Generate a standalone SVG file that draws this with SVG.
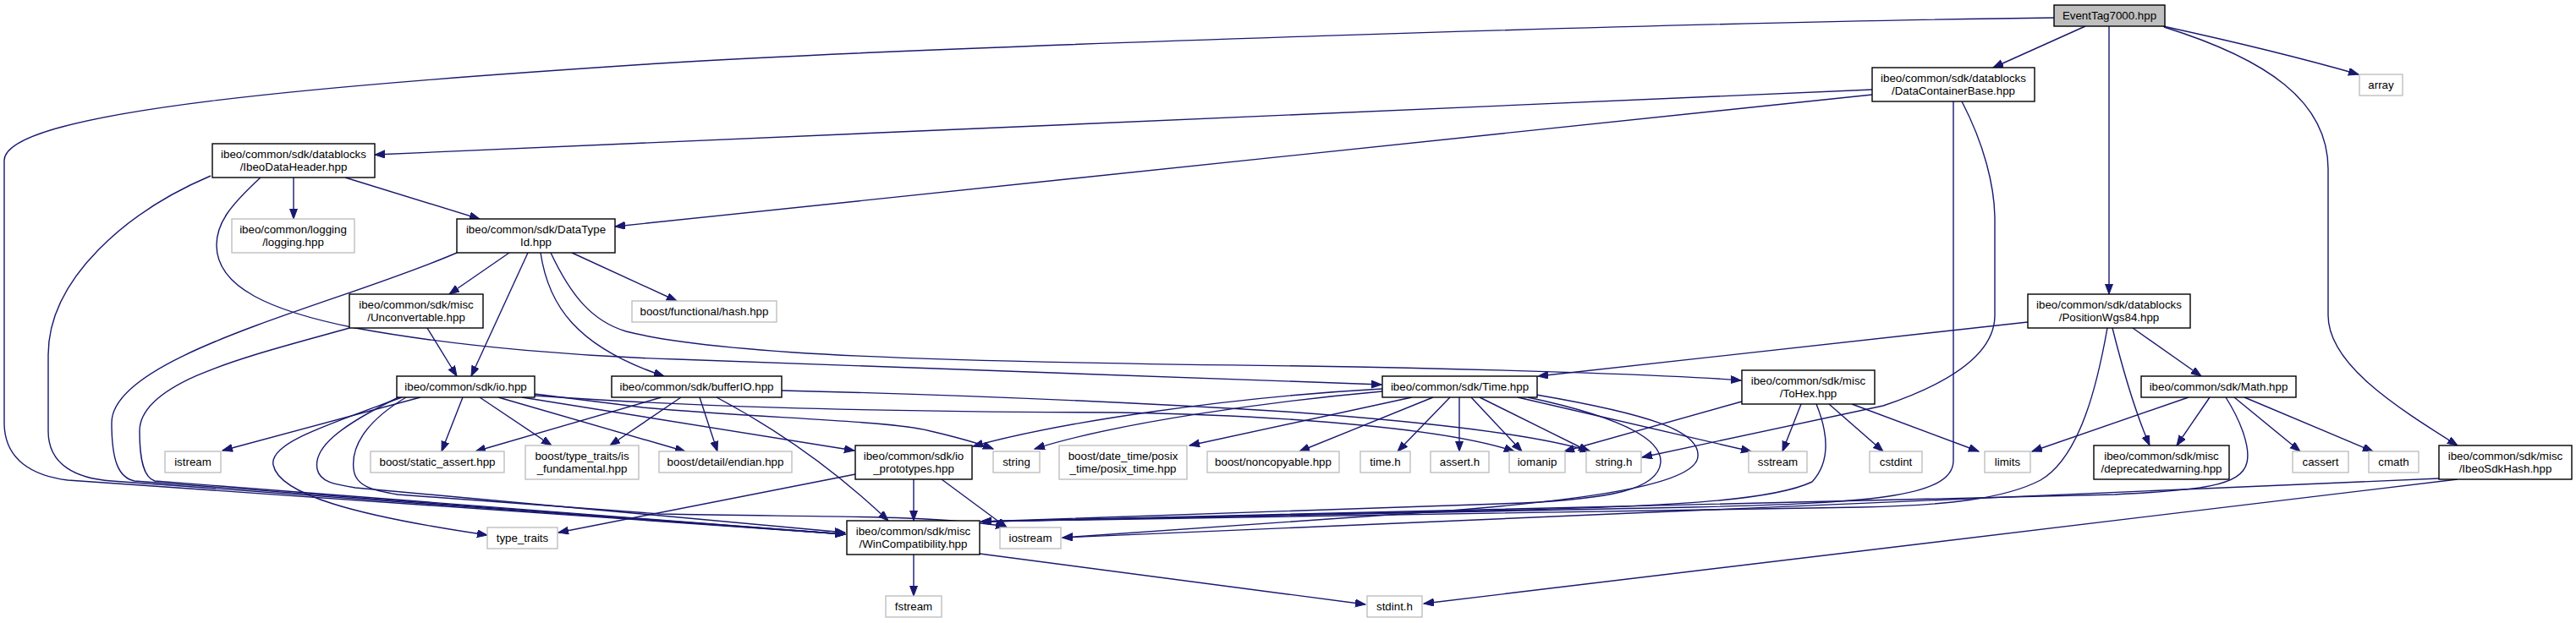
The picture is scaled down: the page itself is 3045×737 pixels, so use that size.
<svg xmlns="http://www.w3.org/2000/svg" width="3045" height="737" viewBox="0 0 3045 737">
<defs>
<marker id="a" markerUnits="userSpaceOnUse" markerWidth="13" markerHeight="10" refX="12" refY="4.5" orient="auto"><path d="M0,0 L12,4.5 L0,9 z" fill="#191970" stroke="#191970" stroke-width="1"/></marker>
<style>
.n rect{fill:#fff;stroke:#000;stroke-width:1.4}
.g rect{fill:#fff;stroke:#bfbfbf;stroke-width:1.4}
.m rect{fill:#bfbfbf;stroke:#000;stroke-width:1.4}
text{font-family:"Liberation Sans",Arial,Helvetica,sans-serif;font-size:13.33px;text-anchor:middle;fill:#000}
#edges path{fill:none;stroke:#191970;stroke-width:1.4;marker-end:url(#a)}
</style>
</defs>
<rect width="3045" height="737" fill="#fff"/>
<g id="edges">
<path d="M2428,21 C2000,26 1100,55 780,75 C400,100 5,130 5,190 L5,500 C5,545 40,563 80,568 L999,632"/>
<path d="M2465,31 L2356,80"/>
<path d="M2493,31 L2493,348"/>
<path d="M2557,31 Q2690,60 2788,88"/>
<path d="M2558,32 C2680,70 2752,120 2752,200 L2752,373 C2752,430 2830,480 2905,527"/>
<path d="M2213,106 L443,183"/>
<path d="M2213,112 L727,268"/>
<path d="M2309,120 L2309,545 C2309,590 2200,595 2000,600 L1160,617"/>
<path d="M2319,120 C2345,170 2358,220 2358,260 L2358,373 C2358,420 2300,455 2226,480 L1941,541"/>
<path d="M347,210 L347,259"/>
<path d="M408,210 L567,259"/>
<path d="M249,208 C150,250 57,330 57,420 L57,510 C57,550 90,566 132,569 L999,632"/>
<path d="M308,210 C270,245 256,265 256,290 C256,340 320,368 420,388 C550,412 700,422 800,425 L1633,455"/>
<path d="M602,299 L531,348"/>
<path d="M624,299 L557,445"/>
<path d="M639,299 C648,360 680,410 785,445"/>
<path d="M676,299 L800,356"/>
<path d="M651,299 C675,350 700,380 740,392 C850,420 1100,428 1540,433 C1800,437 2000,445 2058,450"/>
<path d="M540,299 C400,360 132,420 132,500 C132,545 140,565 159,569 L999,632"/>
<path d="M413,388 C300,420 165,450 165,510 C165,545 170,565 183,569 L999,632"/>
<path d="M505,388 L540,445"/>
<path d="M497,470 L263,533"/>
<path d="M547,470 L522,534"/>
<path d="M567,470 L652,527"/>
<path d="M589,470 L810,534"/>
<path d="M617,470 L1010,533"/>
<path d="M475,470 C380,505 318,525 323,550 C330,585 420,610 576,633"/>
<path d="M471,470 C400,505 370,530 375,555 C378,570 395,573 420,577 L999,630"/>
<path d="M480,470 C430,500 415,530 418,555 C420,575 440,580 470,585 L780,608 C950,612 1100,608 1189,623"/>
<path d="M632,466 L760,482 C900,495 1050,497 1100,510 C1130,517 1150,522 1174,531"/>
<path d="M632,468 C800,480 1000,487 1320,488 C1550,492 1720,510 1790,534"/>
<path d="M782,470 L562,534"/>
<path d="M805,470 L721,527"/>
<path d="M827,470 L848,534"/>
<path d="M847,470 Q960,530 1050,616"/>
<path d="M924,462 C1100,466 1320,475 1520,487 C1700,500 1820,515 1880,534"/>
<path d="M1080,567 L1080,616"/>
<path d="M1113,567 L1190,624"/>
<path d="M1011,561 L660,630"/>
<path d="M1669,470 L1406,527"/>
<path d="M1694,470 L1536,534"/>
<path d="M1714,470 L1652,534"/>
<path d="M1725,470 L1725,534"/>
<path d="M1739,470 L1799,534"/>
<path d="M1749,470 L1878,534"/>
<path d="M1794,470 L2070,534"/>
<path d="M1806,470 C1900,490 1965,515 1963,547 C1960,580 1900,590 1800,595 L1160,617"/>
<path d="M1816,467 C1950,490 2010,510 2007,540 C2005,570 1900,590 1700,605 L1256,636"/>
<path d="M1634,463 C1500,475 1320,500 1223,531"/>
<path d="M1634,460 C1450,470 1250,500 1150,528"/>
<path d="M2059,475 L1849,534"/>
<path d="M2129,478 L2107,534"/>
<path d="M2147,478 C2160,510 2165,545 2142,570 C2100,590 2000,598 1800,603 L1160,617"/>
<path d="M2162,478 L2226,534"/>
<path d="M2189,478 L2339,534"/>
<path d="M2397,381 L1818,445"/>
<path d="M2521,388 L2602,445"/>
<path d="M2497,388 C2510,440 2525,490 2541,527"/>
<path d="M2491,388 C2480,450 2460,540 2412,568 C2370,590 2300,598 2200,600 L1160,617"/>
<path d="M2587,470 L2402,534"/>
<path d="M2612,470 L2573,527"/>
<path d="M2631,470 C2650,500 2660,530 2656,547 C2650,575 2600,580 2500,585 L1160,617"/>
<path d="M2641,470 L2719,534"/>
<path d="M2653,470 L2805,534"/>
<path d="M2883,566 L1256,636"/>
<path d="M2905,567 L1683,714"/>
<path d="M1080,656 L1080,705"/>
<path d="M1158,655 L1614,715"/>
</g>
<g id="n0" class="m"><rect x="2428" y="6" width="131" height="25"/><text x="2493.5" y="23">EventTag7000.hpp</text></g>
<g id="n1" class="g"><rect x="2789" y="88" width="51" height="25"/><text x="2814.5" y="105">array</text></g>
<g id="n2" class="n"><rect x="2213" y="80" width="192" height="40"/><text x="2309" y="96.5">ibeo/common/sdk/datablocks</text><text x="2309" y="111.5">/DataContainerBase.hpp</text></g>
<g id="n3" class="n"><rect x="251" y="170" width="192" height="40"/><text x="347" y="186.5">ibeo/common/sdk/datablocks</text><text x="347" y="201.5">/IbeoDataHeader.hpp</text></g>
<g id="n4" class="g"><rect x="274" y="259" width="145" height="40"/><text x="346.5" y="275.5">ibeo/common/logging</text><text x="346.5" y="290.5">/logging.hpp</text></g>
<g id="n5" class="n"><rect x="540" y="259" width="187" height="40"/><text x="633.5" y="275.5">ibeo/common/sdk/DataType</text><text x="633.5" y="290.5">Id.hpp</text></g>
<g id="n6" class="n"><rect x="413" y="348" width="158" height="40"/><text x="492" y="364.5">ibeo/common/sdk/misc</text><text x="492" y="379.5">/Unconvertable.hpp</text></g>
<g id="n7" class="g"><rect x="747" y="356" width="171" height="25"/><text x="832.5" y="373">boost/functional/hash.hpp</text></g>
<g id="n8" class="n"><rect x="469" y="445" width="163" height="25"/><text x="550.5" y="462">ibeo/common/sdk/io.hpp</text></g>
<g id="n9" class="n"><rect x="723" y="445" width="201" height="25"/><text x="823.5" y="462">ibeo/common/sdk/bufferIO.hpp</text></g>
<g id="n10" class="n"><rect x="1634" y="445" width="183" height="25"/><text x="1725.5" y="462">ibeo/common/sdk/Time.hpp</text></g>
<g id="n11" class="n"><rect x="2059" y="438" width="157" height="40"/><text x="2137.5" y="454.5">ibeo/common/sdk/misc</text><text x="2137.5" y="469.5">/ToHex.hpp</text></g>
<g id="n12" class="n"><rect x="2397" y="348" width="192" height="40"/><text x="2493" y="364.5">ibeo/common/sdk/datablocks</text><text x="2493" y="379.5">/PositionWgs84.hpp</text></g>
<g id="n13" class="n"><rect x="2531" y="445" width="183" height="25"/><text x="2622.5" y="462">ibeo/common/sdk/Math.hpp</text></g>
<g id="n14" class="g"><rect x="195" y="534" width="66" height="25"/><text x="228" y="551">istream</text></g>
<g id="n15" class="g"><rect x="438" y="534" width="158" height="25"/><text x="517" y="551">boost/static_assert.hpp</text></g>
<g id="n16" class="g"><rect x="621" y="527" width="134" height="40"/><text x="688" y="543.5">boost/type_traits/is</text><text x="688" y="558.5">_fundamental.hpp</text></g>
<g id="n17" class="g"><rect x="779" y="534" width="157" height="25"/><text x="857.5" y="551">boost/detail/endian.hpp</text></g>
<g id="n18" class="n"><rect x="1011" y="527" width="138" height="40"/><text x="1080" y="543.5">ibeo/common/sdk/io</text><text x="1080" y="558.5">_prototypes.hpp</text></g>
<g id="n19" class="g"><rect x="1174" y="534" width="55" height="25"/><text x="1201.5" y="551">string</text></g>
<g id="n20" class="g"><rect x="1252" y="527" width="151" height="40"/><text x="1327.5" y="543.5">boost/date_time/posix</text><text x="1327.5" y="558.5">_time/posix_time.hpp</text></g>
<g id="n21" class="g"><rect x="1427" y="534" width="156" height="25"/><text x="1505" y="551">boost/noncopyable.hpp</text></g>
<g id="n22" class="g"><rect x="1608" y="534" width="59" height="25"/><text x="1637.5" y="551">time.h</text></g>
<g id="n23" class="g"><rect x="1691" y="534" width="69" height="25"/><text x="1725.5" y="551">assert.h</text></g>
<g id="n24" class="g"><rect x="1784" y="534" width="66" height="25"/><text x="1817" y="551">iomanip</text></g>
<g id="n25" class="g"><rect x="1875" y="534" width="65" height="25"/><text x="1907.5" y="551">string.h</text></g>
<g id="n26" class="g"><rect x="2067" y="534" width="69" height="25"/><text x="2101.5" y="551">sstream</text></g>
<g id="n27" class="g"><rect x="2210" y="534" width="62" height="25"/><text x="2241" y="551">cstdint</text></g>
<g id="n28" class="g"><rect x="2346" y="534" width="54" height="25"/><text x="2373" y="551">limits</text></g>
<g id="n29" class="n"><rect x="2475" y="527" width="160" height="40"/><text x="2555" y="543.5">ibeo/common/sdk/misc</text><text x="2555" y="558.5">/deprecatedwarning.hpp</text></g>
<g id="n30" class="g"><rect x="2710" y="534" width="66" height="25"/><text x="2743" y="551">cassert</text></g>
<g id="n31" class="g"><rect x="2800" y="534" width="59" height="25"/><text x="2829.5" y="551">cmath</text></g>
<g id="n32" class="n"><rect x="2883" y="527" width="157" height="40"/><text x="2961.5" y="543.5">ibeo/common/sdk/misc</text><text x="2961.5" y="558.5">/IbeoSdkHash.hpp</text></g>
<g id="n33" class="g"><rect x="576" y="624" width="83" height="25"/><text x="617.5" y="641">type_traits</text></g>
<g id="n34" class="n"><rect x="1001" y="616" width="157" height="40"/><text x="1079.5" y="632.5">ibeo/common/sdk/misc</text><text x="1079.5" y="647.5">/WinCompatibility.hpp</text></g>
<g id="n35" class="g"><rect x="1182" y="624" width="72" height="25"/><text x="1218" y="641">iostream</text></g>
<g id="n36" class="g"><rect x="1047" y="705" width="66" height="25"/><text x="1080" y="722">fstream</text></g>
<g id="n37" class="g"><rect x="1616" y="705" width="65" height="25"/><text x="1648.5" y="722">stdint.h</text></g>
</svg>
